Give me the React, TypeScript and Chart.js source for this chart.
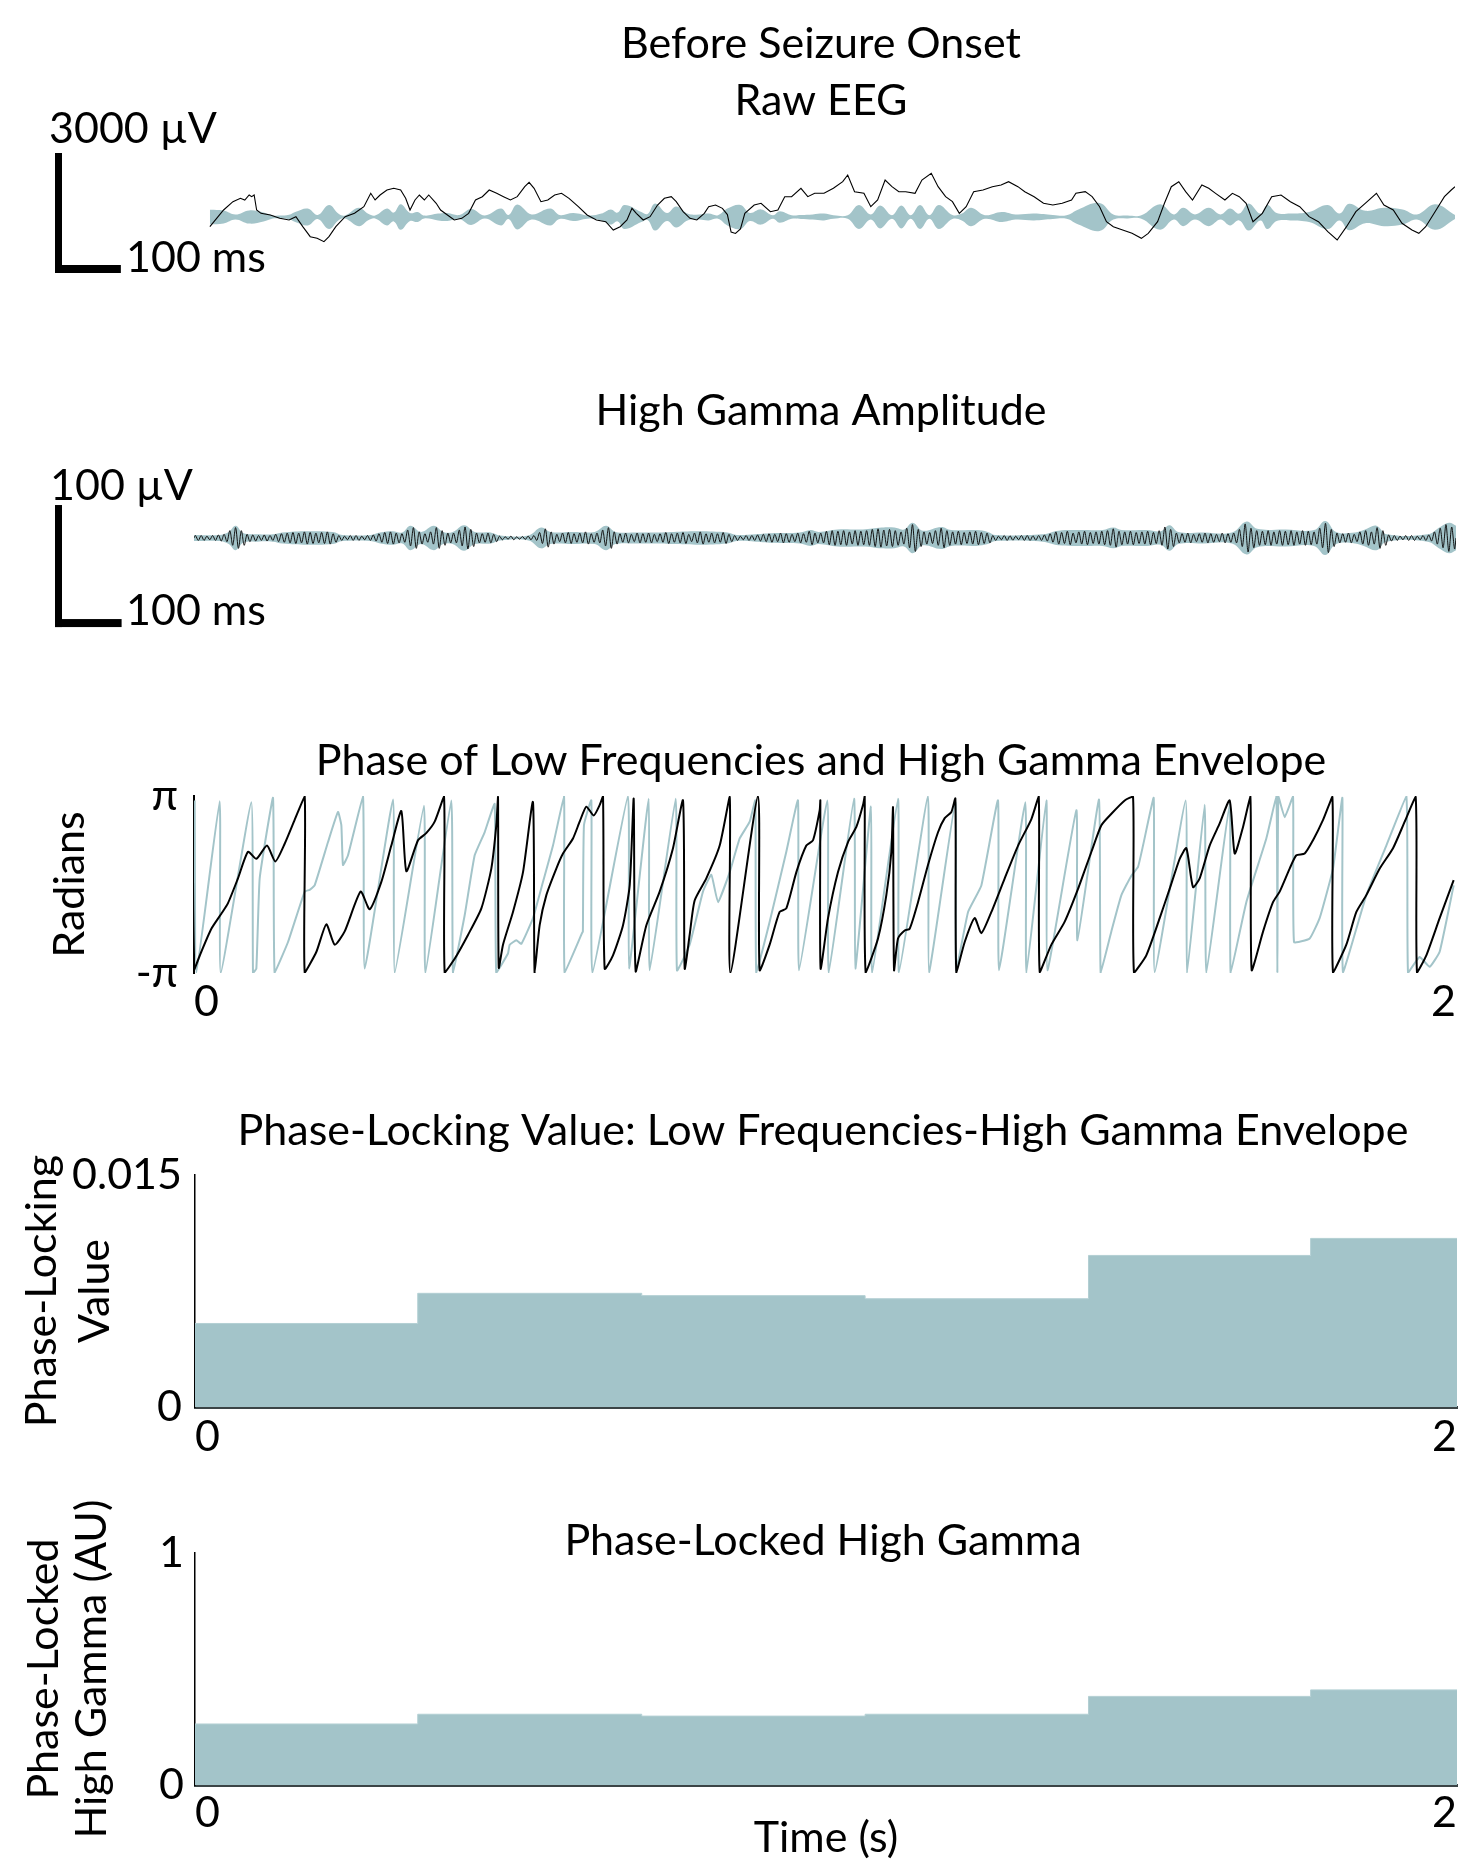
import React, { useEffect, useRef } from 'react';
import { Chart, registerables } from 'chart.js';

Chart.register(...registerables);

const TEAL = '#a3c4c9';
const FONT_FAMILY = 'Lato, "Open Sans", "DejaVu Sans", sans-serif';
const FONT_SIZE = 43;

// ---------------- DATA ----------------
// Raw EEG trace: [time (s), µV]
const rawEEG: [number, number][] = [
  [0.003, -242], [0.025, 175], [0.04, 383], [0.052, 467], [0.059, 425], [0.066, 550], [0.07, 508], [0.074, 550],
  [0.078, 175], [0.085, 92], [0.1, 50], [0.115, -33], [0.13, -75], [0.141, 8], [0.152, -242], [0.164, -492],
  [0.175, -533], [0.186, -617], [0.194, -492], [0.205, -242], [0.22, 8], [0.235, 92], [0.25, 258], [0.261, 592],
  [0.268, 425], [0.276, 550], [0.287, 675], [0.298, 717], [0.309, 675], [0.317, 467], [0.324, 175], [0.332, 425],
  [0.339, 550], [0.347, 425], [0.354, 550], [0.366, 342], [0.373, 175], [0.384, 50], [0.395, -75], [0.407, -33],
  [0.418, 92], [0.429, 425], [0.44, 508], [0.451, 675], [0.463, 592], [0.474, 508], [0.485, 425], [0.496, 508],
  [0.508, 758], [0.515, 867], [0.523, 717], [0.534, 383], [0.545, 425], [0.556, 550], [0.567, 592], [0.579, 467],
  [0.594, 258], [0.608, 50], [0.623, -75], [0.638, -117], [0.65, -325], [0.661, -242], [0.672, -75], [0.68, 217],
  [0.687, 92], [0.698, -75], [0.709, 8], [0.721, 300], [0.732, 467], [0.743, 508], [0.751, 383], [0.762, 133],
  [0.773, -33], [0.784, -75], [0.796, 92], [0.803, 258], [0.814, 300], [0.825, 217], [0.833, 60], [0.839, -375],
  [0.846, -410], [0.854, -300], [0.861, 92], [0.876, 300], [0.887, 342], [0.902, 133], [0.914, 175], [0.925, 508],
  [0.936, 508], [0.951, 717], [0.962, 508], [0.973, 592], [0.988, 592], [1.003, 717], [1.018, 883], [1.026, 1050],
  [1.037, 633], [1.052, 592], [1.063, 258], [1.074, 425], [1.086, 925], [1.097, 758], [1.108, 633], [1.119, 633],
  [1.134, 592], [1.145, 925], [1.16, 1092], [1.171, 758], [1.183, 508], [1.194, 383], [1.205, 92], [1.216, 258],
  [1.228, 633], [1.243, 675], [1.258, 758], [1.272, 800], [1.284, 883], [1.299, 758], [1.31, 633], [1.325, 508],
  [1.34, 342], [1.355, 300], [1.37, 342], [1.385, 425], [1.392, 592], [1.407, 633], [1.418, 508], [1.43, 258],
  [1.441, -117], [1.452, -242], [1.467, -325], [1.482, -408], [1.497, -533], [1.508, -408], [1.523, -117], [1.534, 342],
  [1.545, 758], [1.557, 883], [1.568, 633], [1.579, 425], [1.594, 800], [1.605, 717], [1.616, 592], [1.631, 425],
  [1.643, 592], [1.654, 508], [1.665, 342], [1.676, -117], [1.691, 92], [1.706, 508], [1.721, 550], [1.736, 383],
  [1.751, 258], [1.766, 8], [1.781, -117], [1.796, -367], [1.811, -575], [1.826, -242], [1.841, 133], [1.856, 342],
  [1.874, 592], [1.886, 300], [1.901, 175], [1.915, -158], [1.931, -325], [1.942, -408], [1.953, -242], [1.968, 133],
  [1.983, 508], [1.994, 675], [2.0, 758],
];

// High-gamma envelope drawn on the raw EEG panel: [time (s), half-width µV]
const eegEnvelope: [number, number][] = [
  [0.003, 180], [0.025, 160], [0.044, 60], [0.066, 165], [0.089, 115], [0.104, 40], [0.115, 35], [0.13, 55],
  [0.141, 130], [0.16, 210], [0.176, 50], [0.194, 300], [0.21, 75], [0.22, 40], [0.242, 230], [0.257, 80],
  [0.268, 35], [0.287, 210], [0.298, 110], [0.309, 320], [0.324, 100], [0.336, 125], [0.347, 35], [0.369, 85],
  [0.384, 100], [0.403, 50], [0.422, 200], [0.444, 40], [0.47, 210], [0.482, 50], [0.496, 310], [0.519, 65],
  [0.549, 210], [0.564, 50], [0.586, 100], [0.612, 35], [0.631, 85], [0.646, 190], [0.657, 110], [0.668, 300],
  [0.695, 125], [0.705, 75], [0.717, 340], [0.736, 100], [0.751, 260], [0.77, 80], [0.788, 65], [0.803, 85],
  [0.818, 45], [0.833, 210], [0.854, 300], [0.869, 100], [0.887, 190], [0.906, 45], [0.917, 145], [0.936, 45],
  [0.951, 50], [0.97, 65], [0.988, 85], [1.003, 45], [1.026, 45], [1.044, 300], [1.063, 65], [1.078, 285],
  [1.097, 45], [1.112, 285], [1.127, 45], [1.142, 300], [1.157, 45], [1.172, 300], [1.194, 50], [1.209, 85],
  [1.224, 230], [1.246, 45], [1.273, 125], [1.295, 65], [1.325, 85], [1.355, 50], [1.377, 45], [1.396, 190],
  [1.43, 350], [1.452, 65], [1.475, 35], [1.497, 45], [1.527, 320], [1.549, 65], [1.564, 230], [1.583, 65],
  [1.605, 230], [1.624, 65], [1.639, 210], [1.654, 85], [1.669, 340], [1.688, 85], [1.699, 300], [1.714, 100],
  [1.736, 85], [1.766, 125], [1.796, 300], [1.815, 85], [1.83, 330], [1.856, 155], [1.886, 230], [1.916, 190],
  [1.939, 65], [1.968, 320], [2.0, 50],
];

// High gamma amplitude envelope: [time (s), µV]
const hgEnvelope: [number, number][] = [
  [0, 2.5], [0.04, 2.5], [0.055, 5], [0.066, 10], [0.078, 4], [0.1, 3], [0.125, 3], [0.14, 4.5], [0.18, 5.5],
  [0.22, 5], [0.235, 2.5], [0.28, 2.5], [0.295, 4.5], [0.315, 5.5], [0.33, 4.5], [0.343, 10], [0.36, 5],
  [0.38, 10], [0.395, 5], [0.41, 5], [0.428, 10.5], [0.445, 5], [0.47, 4.5], [0.485, 2], [0.53, 2], [0.55, 8.5],
  [0.565, 5], [0.6, 5], [0.635, 5], [0.653, 10], [0.668, 5], [0.7, 4.5], [0.73, 4.5], [0.76, 5], [0.8, 5.5],
  [0.845, 4.5], [0.86, 2.5], [0.89, 3], [0.92, 4], [0.96, 4.5], [0.977, 6.5], [0.99, 5], [1.02, 7], [1.06, 7],
  [1.09, 8.5], [1.11, 8.5], [1.125, 7], [1.139, 12.5], [1.155, 6], [1.184, 9], [1.2, 6.5], [1.24, 6.5],
  [1.258, 5], [1.27, 2.5], [1.345, 3], [1.37, 6], [1.41, 6.5], [1.44, 6.5], [1.457, 8.5], [1.47, 6.5],
  [1.51, 6.5], [1.532, 5.5], [1.546, 10.5], [1.56, 5], [1.6, 4.5], [1.645, 4.5], [1.668, 13.5], [1.685, 7.5],
  [1.73, 7], [1.775, 6.5], [1.793, 14], [1.81, 5], [1.84, 4.5], [1.856, 7], [1.874, 10], [1.89, 3], [1.955, 3],
  [1.975, 9], [1.989, 12.5], [2.0, 10],
];

// High gamma oscillation: peak amplitude (µV) of each successive cycle over the 2 s window
const hgCycles: number[] = [
  2, 2, 1.5, 2, 2.5, 3, 6, 8.5, 6, 3, 2.5, 2, 2.5, 2, 3, 3.5, 4, 4.5, 4, 5, 4.5, 4, 4.5, 5, 3.5,
  2, 1.5, 2, 2, 1.5, 2, 2.5, 3.5, 4.5, 5, 4, 3.5, 6.5, 8.5, 5, 3.5, 5, 8.5, 6, 4, 4, 6.5, 9, 7,
  4, 3.5, 4, 3, 1.5, 1, 1.5, 1, 1.2, 1.5, 2, 4.5, 7.5, 5, 3, 4, 4.5, 3.5, 4, 5, 3.5, 4, 6.5, 8.5, 5,
  3.5, 4, 3, 4, 3.5, 4, 3, 3.5, 4.5, 3.5, 4, 4.5, 3, 4, 5, 3.5, 4, 3.5, 4.5, 3, 2, 1.5, 2, 2, 2.5,
  3, 3.5, 3, 4, 3.5, 3, 4, 3.5, 5.5, 4, 4, 5.5, 6, 5.5, 6, 5, 6, 5.5, 6, 7, 7.5, 6.5, 7, 6,
  5, 8, 11, 7, 5, 4.5, 6, 8, 6, 5, 5.5, 4.5, 5, 5.5, 4.5, 4, 2, 1.5, 2, 1.8, 1.5, 2, 2, 1.8, 2, 2.5,
  3.5, 5, 4.5, 5.5, 4, 5, 5.5, 4.5, 5, 5.5, 6, 7.5, 5.5, 5, 5.5, 4.5, 5, 5.5, 4.5, 6, 9, 7, 4,
  3.5, 4, 3, 3.5, 4, 3.5, 3, 4, 3.5, 4, 7, 11.5, 8, 6, 5.5, 6, 5, 6, 5.5, 6, 5, 6, 5.5, 5,
  8, 12, 7, 4, 3.5, 4, 3, 5, 6, 5, 8.5, 6, 2.5, 2, 1.5, 2, 2, 1.5, 2, 2.5, 5, 8, 11, 9,
];

// Phase of low frequencies: [time (s), phase in units of π]
const phaseLow: [number, number][] = [
  [0, -0.97], [0.0116, -0.76], [0.0275, -0.5], [0.0433, -0.33], [0.0539, -0.21], [0.0697, 0.07], [0.0856, 0.37],
  [0.0988, 0.29], [0.1157, 0.44], [0.1289, 0.26], [0.1437, 0.46], [0.1595, 0.73], [0.1754, 1.0],
  [0.1755, -1.0], [0.194, -0.76], [0.2097, -0.45], [0.223, -0.68], [0.2388, -0.53], [0.2641, -0.08], [0.2784, -0.28],
  [0.2969, 0.03], [0.3127, 0.44], [0.3286, 0.83], [0.3365, 0.15], [0.355, 0.5], [0.368, 0.58], [0.3814, 0.71], [0.3962, 1.0],
  [0.3973, -1.0], [0.4131, -0.84], [0.4342, -0.57], [0.4554, -0.27], [0.4712, 0.18], [0.4791, 0.67], [0.4818, 0.99],
  [0.4829, -0.94], [0.4897, -0.68], [0.5055, -0.31], [0.5214, 0.14], [0.5372, 0.93],
  [0.5398, -1.0], [0.5478, -0.46], [0.5584, -0.12], [0.5742, 0.18], [0.5848, 0.35], [0.6006, 0.52], [0.6112, 0.71],
  [0.6218, 0.88], [0.6334, 0.78], [0.643, 0.9], [0.6482, 1.0],
  [0.6508, -0.95], [0.664, -0.8], [0.6799, -0.46], [0.6905, -0.01], [0.6968, 0.97],
  [0.7, -0.985], [0.7169, -0.46], [0.738, -0.08], [0.7591, 0.41], [0.775, 0.95],
  [0.7776, -0.95], [0.7855, -0.57], [0.7934, -0.18], [0.8119, 0.07], [0.8331, 0.44], [0.849, 0.99],
  [0.85, -1.0], [0.8938, 1.0],
  [0.8964, -0.97], [0.9123, -0.68], [0.9281, -0.31], [0.9387, -0.27], [0.9546, 0.14], [0.9704, 0.44], [0.981, 0.5],
  [0.9916, 0.84], [0.9926, 0.95],
  [0.993, -0.95], [1.0048, -0.38], [1.0206, 0.14], [1.0365, 0.48], [1.0497, 0.65], [1.0603, 0.9], [1.0629, 1.0],
  [1.0645, -1.0], [1.084, -0.61], [1.0972, -0.12], [1.1052, 0.37], [1.1078, 0.87],
  [1.1094, -0.97], [1.1157, -0.61], [1.1263, -0.52], [1.1342, -0.5], [1.1474, -0.2], [1.1632, 0.22], [1.1791, 0.59],
  [1.1897, 0.75], [1.2003, 0.82], [1.2066, 0.97],
  [1.2082, -1.0], [1.2214, -0.65], [1.2372, -0.38], [1.2478, -0.55], [1.2637, -0.31], [1.2848, 0.07], [1.306, 0.44],
  [1.3271, 0.74], [1.3387, 1.0],
  [1.3403, -0.99], [1.3588, -0.68], [1.3799, -0.42], [1.401, -0.05], [1.4222, 0.37], [1.438, 0.67], [1.4539, 0.8],
  [1.475, 0.95], [1.4882, 0.99],
  [1.4897, -1.0], [1.5092, -0.8], [1.5304, -0.38], [1.5462, -0.05], [1.5621, 0.29], [1.5727, 0.41], [1.5832, -0.03],
  [1.5938, 0.07], [1.6096, 0.44], [1.6255, 0.69], [1.6413, 0.95], [1.6493, 0.35], [1.6625, 0.65], [1.6741, 1.0],
  [1.6762, -0.97], [1.6943, -0.53], [1.71, -0.2], [1.7206, -0.08], [1.7364, 0.18], [1.747, 0.33], [1.7602, 0.35],
  [1.7734, 0.5], [1.7893, 0.73], [1.8041, 0.99],
  [1.8051, -1.0], [1.8262, -0.68], [1.8421, -0.31], [1.8579, -0.12], [1.8791, 0.18], [1.9002, 0.41], [1.9187, 0.71],
  [1.9361, 0.99],
  [1.9382, -1.0], [1.953, -0.8], [1.9741, -0.38], [1.9963, 0.05],
];

// Phase of the high gamma envelope: [time (s), phase in units of π]
const phaseEnv: [number, number][] = [
  [0.0011, 0.95], [0.0037, -1.0], [0.0407, 0.94], [0.0423, -1.0], [0.0909, 0.93], [0.0935, -1.0], [0.0988, -0.95],
  [0.1041, 0.07], [0.1252, 0.98], [0.1278, -1.0], [0.149, -0.65], [0.1754, -0.08], [0.1833, -0.06], [0.1912, -0.01],
  [0.2124, 0.48], [0.2282, 0.82], [0.2335, 0.67], [0.2361, 0.22], [0.2441, 0.33], [0.2678, 1.0], [0.2705, -0.95],
  [0.3154, 0.96], [0.318, -1.0], [0.3645, 0.89], [0.3666, -1.0], [0.4078, 0.95], [0.4105, -1.0], [0.4289, -0.35],
  [0.4448, 0.33], [0.4606, 0.59], [0.4765, 0.91], [0.4791, -1.0], [0.4976, -0.78], [0.5003, -0.68], [0.5109, -0.63],
  [0.5188, -0.67], [0.5372, -0.38], [0.5531, 0.03], [0.5689, 0.44], [0.5864, 1.0], [0.5874, -1.0], [0.6149, -0.55],
  [0.6163, -0.53], [0.618, 0.67], [0.6297, 0.95], [0.6313, -1.0], [0.6878, 1.0], [0.6894, -0.95], [0.7206, 0.97],
  [0.7221, -0.97], [0.7634, 0.97], [0.7654, -0.97], [0.7855, -0.68], [0.8066, -0.08], [0.8199, 0.11], [0.8304, -0.2],
  [0.849, 0.14], [0.8648, 0.52], [0.8807, 0.71], [0.8896, 0.95], [0.8912, -1.0], [0.9123, -0.42], [0.9387, 0.37],
  [0.9572, 0.95], [0.9588, -0.97], [1.0037, 0.95], [1.0058, -1.0], [1.046, 0.97], [1.0481, -0.95], [1.0729, 0.88],
  [1.0745, -1.0], [1.1157, 0.97], [1.1173, -0.99], [1.1632, 1.0], [1.1648, -0.99], [1.2066, 0.93], [1.2077, -0.97],
  [1.2267, -0.31], [1.2478, -0.01], [1.2742, 0.95], [1.2757, -0.97], [1.3175, 0.93], [1.3191, -1.0], [1.3508, 0.95],
  [1.3524, -0.97], [1.3984, 0.84], [1.4, -0.63], [1.4343, 0.96], [1.4369, -1.0], [1.4538, -0.53], [1.4697, -0.12],
  [1.4855, 0.1], [1.4961, 0.2], [1.504, 0.44], [1.5209, 0.98], [1.5225, -0.99], [1.5716, 0.95], [1.5737, -1.0],
  [1.6017, 0.9], [1.6043, -1.0], [1.6413, 0.91], [1.6429, -1.0], [1.6677, -0.2], [1.6994, 0.52], [1.7153, 1.0],
  [1.7169, -1.0], [1.7185, 1.0], [1.7285, 0.76], [1.7417, 1.0], [1.7433, -0.65], [1.7681, -0.61], [1.7839, -0.38],
  [1.8051, 0.18], [1.8199, 0.98], [1.8209, -0.99], [1.8579, -0.12], [1.8896, 0.44], [1.9213, 1.0], [1.924, -1.0],
  [1.9424, -0.82], [1.9583, -0.93], [1.9741, -0.76], [1.9963, -0.01],
];

// Binned measures (bin edges in s)
const binEdges = [0, 0.353, 0.708, 1.062, 1.416, 1.768, 2];
const plvValues = [0.0054, 0.00735, 0.0072, 0.007, 0.0098, 0.0109];
const plhgValues = [0.263, 0.305, 0.297, 0.305, 0.382, 0.41];

// Ticks
const timeTicks = [0, 2];
const timeTickLabels = ['0', '2'];
const phaseTicks = [-1, 1];
const phaseTickLabels = ['-π', 'π'];
const plvTicks = [0, 0.015];
const plvTickLabels = ['0', '0.015'];
const plhgTicks = [0, 1];
const plhgTickLabels = ['0', '1'];

// Scale bars
const eegScaleBar = { base: -1400, span: 3000, ms: 100 };
const hgScaleBar = { base: -73, span: 100, ms: 100 };

// ---------------- HELPERS ----------------
const font = { family: FONT_FAMILY, size: FONT_SIZE };

type TextItem = { text: string; x: number; y: number; align?: CanvasTextAlign };

const textLayer = (items: TextItem[]) => ({
  id: 'textLayer',
  afterDraw(chart: any) {
    const ctx = chart.ctx as CanvasRenderingContext2D;
    ctx.save();
    ctx.fillStyle = '#000';
    ctx.font = `${FONT_SIZE}px ${FONT_FAMILY}`;
    ctx.textBaseline = 'alphabetic';
    items.forEach((it) => {
      ctx.textAlign = it.align ?? 'center';
      ctx.fillText(it.text, it.x, it.y);
    });
    ctx.restore();
  },
});

const scaleBarPlugin = (bar: { base: number; span: number; ms: number }, left: number) => ({
  id: 'scaleBar',
  afterDraw(chart: any) {
    const ctx = chart.ctx as CanvasRenderingContext2D;
    const { x, y } = chart.scales;
    const yBottom = y.getPixelForValue(bar.base);
    const yTop = y.getPixelForValue(bar.base + bar.span);
    const w = x.getPixelForValue(bar.ms / 1000) - x.getPixelForValue(0);
    const vThick = 7;
    const hThick = 8;
    ctx.save();
    ctx.fillStyle = '#000';
    ctx.fillRect(left, yTop, vThick, yBottom - yTop);
    ctx.fillRect(left, yBottom - hThick, w + vThick / 2, hThick);
    ctx.restore();
  },
});

const baseOptions = (padding: any) => ({
  animation: false,
  responsive: false,
  devicePixelRatio: 1,
  layout: { padding },
  plugins: { legend: { display: false }, tooltip: { enabled: false }, title: { display: false } },
  elements: { point: { radius: 0 } },
});

const fixedTicks = (values: number[], labels: string[]) => ({
  afterBuildTicks: (s: any) => {
    s.ticks = values.map((v) => ({ value: v }));
  },
  label: (v: number) => labels[values.indexOf(v)] ?? '',
});

const timeAxis = (height: number, padding: number, border: any, title: any = { display: false }) => {
  const ft = fixedTicks(timeTicks, timeTickLabels);
  return {
    type: 'linear',
    min: 0,
    max: 2,
    z: 1,
    afterBuildTicks: ft.afterBuildTicks,
    afterFit: (s: any) => {
      s.height = height;
    },
    ticks: {
      callback: (v: number) => ft.label(v),
      font,
      color: '#000',
      align: 'inner',
      padding,
      maxRotation: 0,
      autoSkip: false,
    },
    grid: { display: false, drawTicks: false },
    border,
    title,
  };
};

const valueAxis = (
  min: number,
  max: number,
  values: number[],
  labels: string[],
  width: number,
  padding: number,
  border: any,
  title: any,
) => {
  const ft = fixedTicks(values, labels);
  return {
    type: 'linear',
    min,
    max,
    z: 1,
    afterBuildTicks: ft.afterBuildTicks,
    afterFit: (s: any) => {
      s.width = width;
    },
    ticks: { callback: (v: number) => ft.label(v), font, color: '#000', padding, autoSkip: false },
    grid: { display: false, drawTicks: false },
    border,
    title,
  };
};

const toXY = (arr: [number, number][]) => arr.map(([x, y]) => ({ x, y }));
const toNegXY = (arr: [number, number][]) => arr.map(([x, y]) => ({ x, y: -y }));
const stepPoints = (edges: number[], values: number[]) =>
  edges.map((x, i) => ({ x, y: values[Math.min(i, values.length - 1)] }));
const oscillation = (amps: number[]) => {
  const dt = 2 / amps.length;
  const pts: { x: number; y: number }[] = [{ x: 0, y: 0 }];
  amps.forEach((a, i) => {
    pts.push({ x: (i + 0.25) * dt, y: a });
    pts.push({ x: (i + 0.75) * dt, y: -a });
  });
  pts.push({ x: 2, y: 0 });
  return pts;
};

// ---------------- CONFIGS ----------------
const envelopeDatasets = (env: [number, number][]) => [
  {
    data: toXY(env),
    borderColor: TEAL,
    borderWidth: 0,
    backgroundColor: TEAL,
    pointRadius: 0,
    tension: 0.4,
    fill: '+1',
  },
  {
    data: toNegXY(env),
    borderColor: TEAL,
    borderWidth: 0,
    pointRadius: 0,
    tension: 0.4,
    fill: false,
  },
];

const rawEEGConfig = () => ({
  type: 'line',
  data: {
    datasets: [
      { data: toXY(rawEEG), borderColor: '#000', borderWidth: 1.1, pointRadius: 0, tension: 0, fill: false },
      ...envelopeDatasets(eegEnvelope),
    ],
  },
  options: {
    ...baseOptions({ left: 208, right: 7, top: 140, bottom: 10 }),
    scales: {
      x: { type: 'linear', min: 0, max: 2, display: false },
      y: { type: 'linear', min: -1825, max: 1925, display: false },
    },
  },
  plugins: [
    textLayer([
      { text: 'Before Seizure Onset', x: 821, y: 58 },
      { text: 'Raw EEG', x: 821, y: 115 },
      { text: '3000 µV', x: 49, y: 143, align: 'left' },
      { text: '100 ms', x: 126, y: 272, align: 'left' },
    ]),
    scaleBarPlugin(eegScaleBar, 55),
  ],
});

const hgConfig = () => ({
  type: 'line',
  data: {
    datasets: [
      { data: oscillation(hgCycles), borderColor: '#111', borderWidth: 1, pointRadius: 0, tension: 0.3, fill: false },
      ...envelopeDatasets(hgEnvelope),
    ],
  },
  options: {
    ...baseOptions({ left: 194, right: 6, top: 80, bottom: 40 }),
    scales: {
      x: { type: 'linear', min: 0, max: 2, display: false },
      y: { type: 'linear', min: -83.6, max: 63.9, display: false },
    },
  },
  plugins: [
    textLayer([
      { text: 'High Gamma Amplitude', x: 821, y: 45 },
      { text: '100 µV', x: 50, y: 120, align: 'left' },
      { text: '100 ms', x: 126, y: 245, align: 'left' },
    ]),
    scaleBarPlugin(hgScaleBar, 55),
  ],
});

const phaseConfig = () => ({
  type: 'line',
  data: {
    datasets: [
      { data: toXY(phaseLow), borderColor: '#000', borderWidth: 2, pointRadius: 0, tension: 0.2, fill: false },
      { data: toXY(phaseEnv), borderColor: TEAL, borderWidth: 2, pointRadius: 0, tension: 0.12, fill: false },
    ],
  },
  options: {
    ...baseOptions({ left: 0, right: 6, top: 76, bottom: 0 }),
    scales: {
      x: timeAxis(67, 3, { display: false }),
      y: valueAxis(-1, 1, phaseTicks, phaseTickLabels, 194, 16, { display: true, color: '#000', width: 2 }, {
        display: true,
        text: 'Radians',
        font,
        color: '#000',
        padding: { top: 44, bottom: 0 },
      }),
    },
  },
  plugins: [textLayer([{ text: 'Phase of Low Frequencies and High Gamma Envelope', x: 821, y: 55 }])],
});

const stepConfig = (
  values: number[],
  yMax: number,
  ticks: number[],
  tickLabels: string[],
  titleLines: string[],
  titleLineHeight: number,
  titlePadTop: number,
  padTop: number,
  xHeight: number,
  xPad: number,
  yPad: number,
  xTitle: any,
  texts: TextItem[],
) => ({
  type: 'line',
  data: {
    datasets: [
      {
        data: stepPoints(binEdges, values),
        stepped: 'before',
        fill: 'origin',
        backgroundColor: TEAL,
        borderColor: '#b4d0d4',
        borderWidth: 1,
        pointRadius: 0,
      },
    ],
  },
  options: {
    ...baseOptions({ left: 0, right: 5, top: padTop, bottom: 0 }),
    scales: {
      x: timeAxis(xHeight, xPad, { display: true, color: '#3b4446', width: 3 }, xTitle),
      y: valueAxis(0, yMax, ticks, tickLabels, 195, yPad, { display: true, color: '#000', width: 1.5 }, {
        display: true,
        text: titleLines,
        font: { ...font, lineHeight: titleLineHeight },
        color: '#000',
        padding: { top: titlePadTop, bottom: 0 },
      }),
    },
  },
  plugins: [textLayer(texts)],
});

const plvConfig = () =>
  stepConfig(
    plvValues,
    0.015,
    plvTicks,
    plvTickLabels,
    ['Phase-Locking', 'Value'],
    1.233,
    16,
    85,
    58,
    4,
    13,
    { display: false },
    [{ text: 'Phase-Locking Value: Low Frequencies-High Gamma Envelope', x: 823, y: 55 }],
  );

const plhgConfig = () =>
  stepConfig(
    plhgValues,
    1,
    plhgTicks,
    plhgTickLabels,
    ['Phase-Locked', 'High Gamma (AU)'],
    1.116,
    20,
    83,
    79,
    2,
    11,
    { display: true, text: 'Time (s)', font, color: '#000', padding: { top: 0, bottom: 0 } },
    [{ text: 'Phase-Locked High Gamma', x: 823, y: 85 }],
  );

// ---------------- COMPONENTS ----------------
function ChartCanvas({ top, height, make }: { top: number; height: number; make: () => any }) {
  const ref = useRef<HTMLCanvasElement | null>(null);
  useEffect(() => {
    if (!ref.current) return;
    const chart = new Chart(ref.current, make());
    return () => chart.destroy();
  }, []);
  return (
    <canvas
      ref={ref}
      width={1462}
      height={height}
      style={{ position: 'absolute', left: 0, top, width: 1462, height, display: 'block' }}
    />
  );
}

export default function App() {
  return (
    <div style={{ position: 'absolute', left: 0, top: 0, width: 1462, height: 1864, background: '#fff' }}>
      <ChartCanvas top={0} height={300} make={rawEEGConfig} />
      <ChartCanvas top={380} height={300} make={hgConfig} />
      <ChartCanvas top={720} height={320} make={phaseConfig} />
      <ChartCanvas top={1090} height={375} make={plvConfig} />
      <ChartCanvas top={1470} height={394} make={plhgConfig} />
    </div>
  );
}
